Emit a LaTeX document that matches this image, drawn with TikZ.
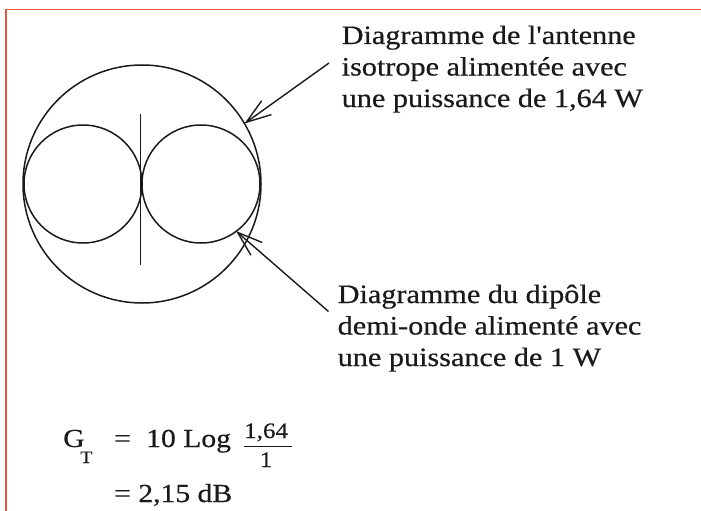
\documentclass[tikz,border=0pt]{standalone}
\usepackage{fontspec}
\setmainfont{Liberation Serif}[FakeStretch=1.14,FakeBold=0.5,Ligatures=TeXOff]
\usetikzlibrary{arrows.meta}
\definecolor{framered}{HTML}{E8553A}
\definecolor{ink}{HTML}{1A1A1A}
\tikzset{
  curve/.style={line width=1.5pt, draw=ink},
  lbl/.style={anchor=base west, inner sep=0pt, text=ink, font=\fontsize{26.5}{30}\selectfont},
  frm/.style={anchor=base west, inner sep=0pt, text=ink, font=\fontsize{26}{30}\selectfont},
  pointer/.style={line width=1.4pt, draw=ink, -{Straight Barb[length=25pt,width=17pt]}, line join=miter},
  frame/.style={line width=1.5pt, draw=framered}
}
\begin{document}
\begin{tikzpicture}[x=1pt,y=-1pt]
\useasboundingbox (0,0) rectangle (701,511);
\fill[white] (0,0) rectangle (701,511);
% frame lines
\coordinate (fTL) at (6,9.5);
\coordinate (fTR) at (701,9.5);
\coordinate (fBL) at (6,511);
\draw[frame] (fBL) -- (fTL) -- (fTR);
% antenna patterns
\coordinate (cBig) at (142,184);
\coordinate (cL) at (83,184);
\coordinate (cR) at (201,184);
\draw[curve] (cBig) circle (119pt);
\draw[curve] (cL) circle (59pt);
\draw[curve] (cR) circle (59pt);
\coordinate (dTop) at (140.5,114);
\coordinate (dBot) at (140.5,265);
\draw[curve] (dTop) -- (dBot);
% upper label
\node[lbl] (a1) at (341.5,44) {Diagramme de l'antenne};
\node[lbl] (a2) at (341.5,75.5) {isotrope alimentée avec};
\node[lbl] (a3) at (341.5,107) {une puissance de 1,64 W};
% lower label
\node[lbl] (b1) at (337.5,303) {Diagramme du dipôle};
\node[lbl] (b2) at (337.5,334.5) {demi-onde alimenté avec};
\node[lbl] (b3) at (337.5,366) {une puissance de 1 W};
% arrows
\coordinate (aStart) at (329,63);
\coordinate (aTip) at (244.5,123.5);
\coordinate (bStart) at (328.5,311.5);
\coordinate (bTip) at (236,231);
\draw[pointer] (aStart) -- (aTip);
\draw[pointer] (bStart) -- (bTip);
% formula
\node[frm] (fG) at (63,447) {G};
\node[frm, font=\fontsize{17.5}{20}\selectfont] (fT) at (80,463) {T};
\node[frm] (fEq) at (114,447) {=};
\node[frm] (fLog) at (146,447) {10 Log};
\node[frm, font=\fontsize{22}{24}\selectfont] (fNum) at (244,438) {1,64};
\coordinate (barL) at (244,446.5);
\coordinate (barR) at (292,446.5);
\draw[line width=1pt, draw=ink] (barL) -- (barR);
\node[frm, font=\fontsize{22}{24}\selectfont, anchor=base] (fDen) at (266,467) {1};
\node[frm] (fRes) at (114,502) {= 2,15 dB};
\end{tikzpicture}
\end{document}
